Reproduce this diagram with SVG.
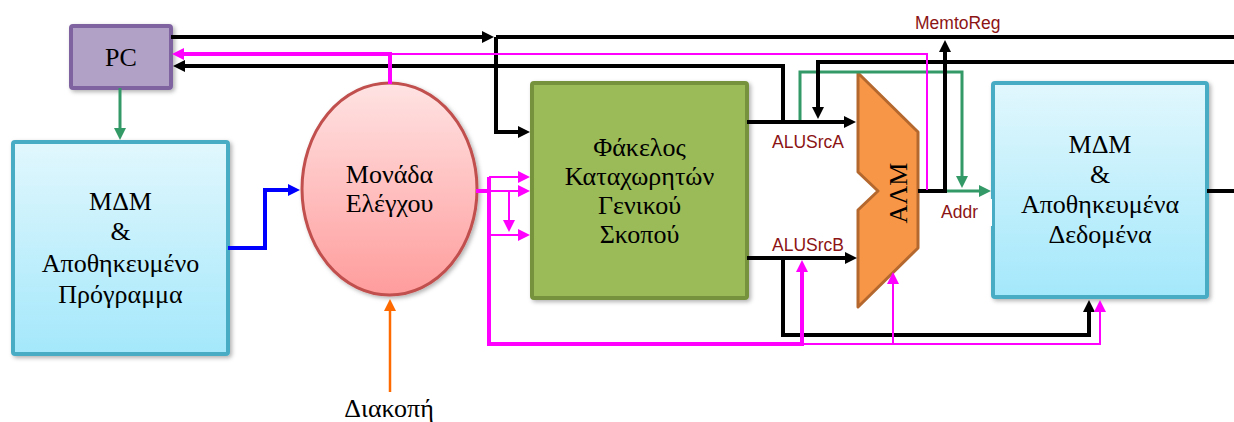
<svg xmlns="http://www.w3.org/2000/svg" width="1234" height="422" viewBox="0 0 1234 422">
<style>
.nt{font-family:"Liberation Serif","Times New Roman",serif;font-size:26px;fill:#000;text-anchor:middle}
.lb{font-family:"Liberation Sans",Arial,sans-serif;font-size:17.5px;fill:#8c1414}
.k{fill:none;stroke:#000;stroke-width:4}
.m{fill:none;stroke:#ff00ff;stroke-width:4}
.mt{fill:none;stroke:#ff00ff;stroke-width:2}
.g{fill:none;stroke:#339966;stroke-width:3}
.b{fill:none;stroke:#0000ff;stroke-width:4}
.o{fill:none;stroke:#ff6a00;stroke-width:2.5}
</style>
<defs>
<linearGradient id="blu" x1="0" y1="0" x2="0" y2="1"><stop offset="0" stop-color="#e1f7fd"/><stop offset="1" stop-color="#a4e8fb"/></linearGradient>
<linearGradient id="pnk" x1="0" y1="0" x2="0" y2="1"><stop offset="0" stop-color="#ffe3e3"/><stop offset="1" stop-color="#ff9c9c"/></linearGradient>
<filter id="sh" x="-10%" y="-10%" width="125%" height="125%"><feDropShadow dx="2" dy="2" stdDeviation="2" flood-color="#000" flood-opacity="0.3"/></filter>
<marker id="ak" viewBox="0 0 12 12" refX="2" refY="6" markerWidth="12" markerHeight="12" markerUnits="userSpaceOnUse" orient="auto"><path d="M0,0 L12,6 L0,12 z" fill="#000"/></marker>
<marker id="am" viewBox="0 0 12 12" refX="2" refY="6" markerWidth="12" markerHeight="12" markerUnits="userSpaceOnUse" orient="auto"><path d="M0,0 L12,6 L0,12 z" fill="#ff00ff"/></marker>
<marker id="ag" viewBox="0 0 12 12" refX="2" refY="6" markerWidth="12" markerHeight="12" markerUnits="userSpaceOnUse" orient="auto"><path d="M0,0 L12,6 L0,12 z" fill="#339966"/></marker>
<marker id="ab" viewBox="0 0 12 12" refX="2" refY="6" markerWidth="12" markerHeight="12" markerUnits="userSpaceOnUse" orient="auto"><path d="M0,0 L12,6 L0,12 z" fill="#0000ff"/></marker>
<marker id="ao" viewBox="0 0 12 12" refX="2" refY="6" markerWidth="12" markerHeight="12" markerUnits="userSpaceOnUse" orient="auto"><path d="M0,0 L12,6 L0,12 z" fill="#ff6a00"/></marker>
</defs>
<rect width="1234" height="422" fill="#fff"/>

<g id="pc">
<rect x="71" y="26" width="100" height="62" rx="2" fill="#b2a1c7" stroke="#7f63a1" stroke-width="4" filter="url(#sh)"/>
<text class="nt" x="121" y="66">PC</text>
</g>

<g id="imem">
<rect x="13" y="142" width="215" height="212" rx="2" fill="url(#blu)" stroke="#4aacc5" stroke-width="4" filter="url(#sh)"/>
<text class="nt" x="120.5" y="210">ΜΔΜ</text>
<text class="nt" x="120.5" y="240">&amp;</text>
<text class="nt" x="120.5" y="272">Αποθηκευμένο</text>
<text class="nt" x="120.5" y="303">Πρόγραμμα</text>
</g>

<g id="control">
<ellipse cx="389.5" cy="189" rx="87.5" ry="106" fill="url(#pnk)" stroke="#c0504d" stroke-width="3" filter="url(#sh)"/>
<text class="nt" x="389.5" y="183">Μονάδα</text>
<text class="nt" x="389.5" y="212">Ελέγχου</text>
</g>

<g id="regfile">
<rect x="532" y="83" width="215" height="215" rx="2" fill="#9bbb59" stroke="#76923c" stroke-width="4" filter="url(#sh)"/>
<text class="nt" x="639.5" y="156">Φάκελος</text>
<text class="nt" x="639.5" y="185">Καταχωρητών</text>
<text class="nt" x="639.5" y="214">Γενικού</text>
<text class="nt" x="639.5" y="243">Σκοπού</text>
</g>

<g id="alu">
<polygon points="858,73 918,132 918,248 858,307 858,210 878,191 858,172" fill="#f79646" stroke="#b5682e" stroke-width="3" stroke-linejoin="round"/>
<text class="nt" transform="translate(907,193) rotate(-90)" x="0" y="0">ΑΛΜ</text>
</g>

<g id="dmem">
<rect x="993" y="83" width="214" height="214" rx="2" fill="url(#blu)" stroke="#4aacc5" stroke-width="4" filter="url(#sh)"/>
<text class="nt" x="1100" y="153">ΜΔΜ</text>
<text class="nt" x="1100" y="183">&amp;</text>
<text class="nt" x="1100" y="213">Αποθηκευμένα</text>
<text class="nt" x="1100" y="243">Δεδομένα</text>
</g>

<g id="connectors">
<path class="g" d="M800,122 V72 H962 V178" marker-end="url(#ag)"/>
<path class="k" d="M171,37 H484" marker-end="url(#ak)"/>
<path class="k" d="M496,37 H1234"/>
<path class="k" d="M496,37 V132 H520" marker-end="url(#ak)"/>
<path class="k" d="M783,122 V66 H183" marker-end="url(#ak)"/>
<path class="k" d="M747,122 H846" marker-end="url(#ak)"/>
<path class="k" d="M747,258 H847" marker-end="url(#ak)"/>
<path class="k" d="M783,258 V335 H1089 V310" marker-end="url(#ak)"/>
<path class="k" d="M1234,62 H818 V109" marker-end="url(#ak)"/>
<path class="k" d="M918,191 H947"/>
<path class="k" d="M945,191 V50" marker-end="url(#ak)"/>
<path class="k" d="M1207,191 H1234"/>
<path class="g" d="M947,191 H981" marker-end="url(#ag)"/>
<path class="g" d="M120,88 V130" marker-end="url(#ag)"/>
<path class="b" d="M228,248 H265 V190 H290" marker-end="url(#ab)"/>
<path class="o" d="M390,392 V309" marker-end="url(#ao)"/>
<path class="mt" d="M390,54 H927 V190"/>
<path class="m" d="M390,84 V54 H182" marker-end="url(#am)"/>
<path class="m" d="M476,191 H489"/>
<path class="m" d="M489,177 V344 H802 V270" marker-end="url(#am)"/>
<path class="mt" d="M489,177 H520" marker-end="url(#am)"/>
<path class="mt" d="M489,191 H520" marker-end="url(#am)"/>
<path class="mt" d="M489,235 H520" marker-end="url(#am)"/>
<path class="mt" d="M509,191 V222" marker-end="url(#am)"/>
<path class="mt" d="M802,344 H1100 V310" marker-end="url(#am)"/>
<path class="mt" d="M893,344 V282" marker-end="url(#am)"/>
</g>

<g id="labels">
<rect x="936" y="199" width="56" height="27" fill="#fff"/>
<text class="lb" x="915" y="29">MemtoReg</text>
<text class="lb" x="772" y="148">ALUSrcA</text>
<text class="lb" x="772" y="251">ALUSrcB</text>
<text class="lb" x="941" y="218">Addr</text>
<text class="nt" x="389" y="417">Διακοπή</text>
</g>
</svg>
